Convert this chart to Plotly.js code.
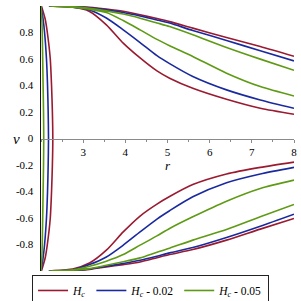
<!DOCTYPE html>
<html>
<head>
<meta charset="utf-8">
<script src="https://cdn.plot.ly/plotly-3.0.1.min.js"></script>
<style>html,body{margin:0;padding:0;background:#fff;}#chart{width:301px;height:301px;}</style>
</head>
<body>
<div id="chart"></div>
<script>
// radial grid for the right-hand curves
const rGrid = [2.2, 2.75, 3.15, 3.55, 3.95, 4.35, 4.75, 5.05, 5.6, 6.4, 7.2, 8.0];
// upper half (v > 0): outer (A) and inner (B) branches
const redA   = [1.0, 0.997, 0.99, 0.977, 0.96, 0.934, 0.905, 0.882, 0.833, 0.762, 0.694, 0.62];
const redB   = [1.0, 0.992, 0.959, 0.858, 0.72, 0.608, 0.51, 0.455, 0.379, 0.296, 0.228, 0.183];
const blueA  = [1.0, 0.996, 0.987, 0.971, 0.951, 0.925, 0.895, 0.871, 0.815, 0.740, 0.662, 0.586];
const blueB  = [1.0, 0.99, 0.97, 0.909, 0.82, 0.724, 0.625, 0.565, 0.468, 0.367, 0.291, 0.228];
const greenA = [1.0, 0.995, 0.983, 0.963, 0.939, 0.908, 0.872, 0.845, 0.783, 0.687, 0.599, 0.515];
const greenB = [1.0, 0.99, 0.975, 0.951, 0.89, 0.82, 0.748, 0.70, 0.619, 0.493, 0.392, 0.321];
// lower half (v < 0)
const redC   = [-1.0, -0.985, -0.94, -0.843, -0.705, -0.585, -0.495, -0.438, -0.348, -0.268, -0.218, -0.178];
const redD   = [-1.0, -0.996, -0.988, -0.969, -0.952, -0.932, -0.9, -0.876, -0.838, -0.767, -0.684, -0.604];
const blueC  = [-1.0, -0.99, -0.951, -0.894, -0.805, -0.705, -0.608, -0.545, -0.44, -0.334, -0.268, -0.218];
const blueD  = [-1.0, -0.995, -0.985, -0.964, -0.943, -0.919, -0.888, -0.863, -0.823, -0.747, -0.662, -0.571];
const greenC = [-1.0, -0.99, -0.964, -0.926, -0.876, -0.805, -0.735, -0.679, -0.591, -0.473, -0.377, -0.314];
const greenD = [-1.0, -0.994, -0.982, -0.957, -0.93, -0.901, -0.858, -0.828, -0.767, -0.687, -0.591, -0.498];
// left-hand branches: r as a function of v
const vLeft  = [1, 0.9, 0.8, 0.6, 0.4, 0.2, 0, -0.2, -0.4, -0.6, -0.8, -0.9, -1];
const redL   = [2.01, 2.10, 2.15, 2.22, 2.25, 2.27, 2.28, 2.27, 2.25, 2.22, 2.15, 2.10, 2.01];
const blueL  = [2.0, 2.05, 2.085, 2.13, 2.155, 2.17, 2.178, 2.17, 2.155, 2.13, 2.085, 2.05, 2.0];
const greenL = [2.0, 2.02, 2.03, 2.04, 2.05, 2.06, 2.065, 2.06, 2.05, 2.04, 2.03, 2.02, 2.0];

const names = ['<i>H</i><sub><i>c</i></sub>', '<i>H</i><sub><i>c</i></sub> - 0.02', '<i>H</i><sub><i>c</i></sub> - 0.05'];
const colors = ['#9a1a30', '#1a2a9e', '#5e9a14'];

function build(L, A, B, C, D, name, color) {
  const rev = rGrid.slice().reverse();
  const x = [].concat(L, [null], rev, rGrid.slice(1), [null], rev, rGrid.slice(1));
  const y = [].concat(vLeft, [null], A.slice().reverse(), B.slice(1), [null], C.slice().reverse(), D.slice(1));
  return {x, y, type:'scatter', mode:'lines', name, connectgaps:false,
          line:{color, width:1.6, shape:'spline', smoothing:0.7}};
}

const traces = [
  build(redL, redA, redB, redC, redD, names[0], colors[0]),
  build(blueL, blueA, blueB, blueC, blueD, names[1], colors[1]),
  build(greenL, greenA, greenB, greenC, greenD, names[2], colors[2])
];

const serif = '"Liberation Serif"';
const layout = {
  width:301, height:301,
  margin:{l:41, r:7, t:6, b:30, autoexpand:false},
  paper_bgcolor:'#fff', plot_bgcolor:'#fff',
  font:{family:serif, size:11, color:'#000'},
  showlegend:true,
  xaxis:{range:[2,8], anchor:'free', position:0.5, showgrid:false, zeroline:false,
         showline:true, linecolor:'#8a8a8a', linewidth:1.5,
         tickvals:[3,4,5,6,7,8], ticks:'outside', ticklen:3, tickcolor:'#8a8a8a',
         minor:{tick0:2, dtick:0.5, ticks:'outside', ticklen:2, tickcolor:'#8a8a8a'},
         tickfont:{family:serif, size:11, color:'#000'}, fixedrange:true, automargin:false},
  yaxis:{range:[-1,1], showgrid:false, zeroline:false, showline:true, linecolor:'#111', linewidth:1.5,
         tickvals:[-0.8,-0.6,-0.4,-0.2,0,0.2,0.4,0.6,0.8],
         ticktext:['-0.8','-0.6','-0.4','-0.2','0','0.2','0.4','0.6','0.8'],
         ticks:'', ticklabelstandoff:4,
         tickfont:{family:serif, size:11, color:'#000'}, fixedrange:true, automargin:false},
  legend:{orientation:'h', x:0.433, xanchor:'center', y:-0.015, yanchor:'top',
          bordercolor:'#222', borderwidth:1, bgcolor:'#fff',
          font:{family:serif, size:11.5, color:'#000'}, itemwidth:30, tracegroupgap:0},
  annotations:[
    {text:'<i>v</i>', xref:'paper', x:-0.12, yref:'y', y:0, showarrow:false,
     font:{family:serif, size:15, color:'#000'}},
    {text:'<i>r</i>', xref:'x', x:5, yref:'y', y:-0.205, showarrow:false,
     font:{family:serif, size:13, color:'#000'}}
  ]
};

Plotly.newPlot('chart', traces, layout, {staticPlot:true, displayModeBar:false});
</script>
</body>
</html>
